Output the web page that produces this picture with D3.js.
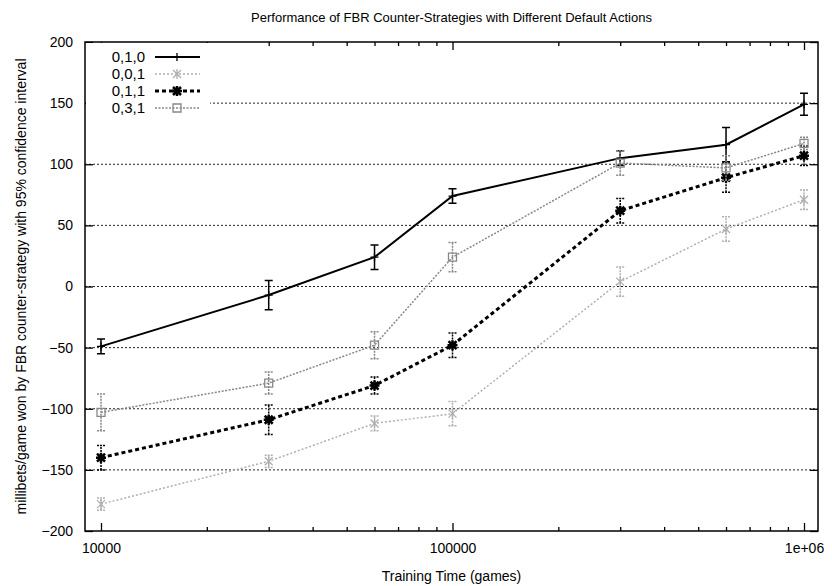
<!DOCTYPE html>
<html>
<head>
<meta charset="utf-8">
<script src="https://cdn.jsdelivr.net/npm/d3@7"></script>
<style>
  body { margin: 0; background: #fff; }
  text { font-family: "Liberation Sans", Arial, sans-serif; fill: #000; }
</style>
</head>
<body>
<div id="canvas"></div>
<script>
"use strict"

/* data */
let trainingGames = [10000, 30000, 60000, 100000, 300000, 600000, 1000000]
let seriesNames = ["0,1,0", "0,0,1", "0,1,1", "0,3,1"]
let means010 = [-49, -7, 24, 74, 105, 116, 149]
let errors010 = [6, 12, 10, 6, 6, 14, 9]
let means001 = [-178, -143, -112, -104, 4, 47, 71]
let errors001 = [5, 5, 6, 10, 12, 10, 8]
let means011 = [-140, -109, -81, -48, 62, 89, 107]
let errors011 = [10, 12, 7, 10, 10, 12, 8]
let means031 = [-103, -79, -48, 24, 101, 97, 117]
let errors031 = [15, 9, 11, 12, 10, 10, 5]
let yTicks = [-200, -150, -100, -50, 0, 50, 100, 150, 200]
let xMajorTicks = [10000, 100000, 1000000]

let svgWidth = 832
let svgHeight = 586
let margin = { top: 42, right: 14, bottom: 55, left: 85 }
let plotW = svgWidth - margin.left - margin.right
let plotH = svgHeight - margin.top - margin.bottom

/* one style per series: colour, dash, width, marker */
let styles = [
    { color: "#000", dash: null, width: 2, marker: "plus", means: means010, errors: errors010 },
    { color: "#b0b0b0", dash: "2,2", width: 1.5, marker: "cross", means: means001, errors: errors001 },
    { color: "#000", dash: "4,3", width: 3, marker: "star", means: means011, errors: errors011 },
    { color: "#888", dash: "2,1.5", width: 1.5, marker: "box", means: means031, errors: errors031 }
]

let svg = d3.select("#canvas").append("svg")
    .attr("width", svgWidth)
    .attr("height", svgHeight)

let viz = svg.append("g")
    .attr("transform", `translate(${margin.left},${margin.top})`)

let xScale = d3.scaleLog()
    .domain([Math.pow(10, 3.9545), Math.pow(10, 6.0398)])
    .range([0, plotW])
let yScale = d3.scaleLinear()
    .domain([-200, 200])
    .range([plotH, 0])

/* minor tick values on the log axis */
let xMinorTicks = []
for (let d = 10000; d <= 100000; d *= 10) {
    for (let k = 2; k <= 9; k++) xMinorTicks.push(d * k)
}

/* horizontal dotted grid */
viz.selectAll("line.grid")
    .data(yTicks.filter(v => v > -200 && v < 200))
    .join("line")
    .attr("class", "grid")
    .attr("x1", 0)
    .attr("x2", plotW)
    .attr("y1", d => yScale(d))
    .attr("y2", d => yScale(d))
    .attr("stroke", "#222")
    .attr("stroke-width", 1)
    .attr("stroke-dasharray", "2,2")

/* axes with inward ticks, mirrored on top and right */
let bottomAxis = d3.axisBottom(xScale).tickValues(xMajorTicks)
    .tickSize(-8).tickPadding(12)
    .tickFormat(d => d === 1000000 ? "1e+06" : d3.format("d")(d))
let bottomMinor = d3.axisBottom(xScale).tickValues(xMinorTicks).tickSize(-4).tickFormat("")
let topAxis = d3.axisTop(xScale).tickValues(xMajorTicks).tickSize(-8).tickFormat("")
let topMinor = d3.axisTop(xScale).tickValues(xMinorTicks).tickSize(-4).tickFormat("")
let leftAxis = d3.axisLeft(yScale).tickValues(yTicks).tickSize(-8).tickPadding(12)
let rightAxis = d3.axisRight(yScale).tickValues(yTicks).tickSize(-8).tickFormat("")

let axisGroups = [
    viz.append("g").attr("transform", `translate(0,${plotH})`).call(bottomAxis),
    viz.append("g").attr("transform", `translate(0,${plotH})`).call(bottomMinor),
    viz.append("g").call(topAxis),
    viz.append("g").call(topMinor),
    viz.append("g").call(leftAxis),
    viz.append("g").attr("transform", `translate(${plotW},0)`).call(rightAxis)
]
axisGroups.forEach(g => {
    g.select(".domain").remove()
    g.selectAll("line").attr("stroke", "#000").attr("stroke-width", 1.3)
    g.selectAll("text").style("font-size", "14px").style("font-family", "Liberation Sans, Arial, sans-serif")
})

/* legend background hides the grid behind it */
viz.append("rect")
    .attr("x", 1)
    .attr("y", 1)
    .attr("width", 124)
    .attr("height", 72)
    .attr("fill", "#fff")

/* plot border */
viz.append("rect")
    .attr("width", plotW)
    .attr("height", plotH)
    .attr("fill", "none")
    .attr("stroke", "#000")
    .attr("stroke-width", 1.5)

function markerPath(type) {
    if (type === "plus") return "M-4,0H4M0,-4V4"
    if (type === "cross") return "M-4,-4L4,4M-4,4L4,-4M0,-5V5"
    if (type === "star") return "M-5,0H5M0,-5V5M-4,-4L4,4M-4,4L4,-4"
    return "M-4,-4H4V4H-4Z"
}

let line = d3.line()
    .x(d => xScale(d.x))
    .y(d => yScale(d.y))

styles.forEach((s, i) => {
    let points = trainingGames.map((x, j) => ({ x: x, y: s.means[j], e: s.errors[j] }))
    let g = viz.append("g")

    g.append("path")
        .datum(points)
        .attr("d", line)
        .attr("fill", "none")
        .attr("stroke", s.color)
        .attr("stroke-width", s.width)
        .attr("stroke-dasharray", s.dash)

    /* error bars */
    let bars = g.selectAll("g.bar")
        .data(points)
        .join("g")
        .attr("class", "bar")
        .attr("transform", d => `translate(${xScale(d.x)},0)`)
    bars.append("path")
        .attr("d", d => {
            let y0 = yScale(d.y - d.e)
            let y1 = yScale(d.y + d.e)
            return `M0,${y0}V${y1}M-4,${y0}H4M-4,${y1}H4`
        })
        .attr("fill", "none")
        .attr("stroke", s.color)
        .attr("stroke-width", i === 0 ? 1.5 : 1.5)
        .attr("stroke-dasharray", i === 0 ? null : "2,1")

    /* point markers */
    g.selectAll("path.marker")
        .data(points)
        .join("path")
        .attr("class", "marker")
        .attr("transform", d => `translate(${xScale(d.x)},${yScale(d.y)})`)
        .attr("d", markerPath(s.marker))
        .attr("fill", "none")
        .attr("stroke", s.color)
        .attr("stroke-width", s.marker === "star" ? 2.5 : 1.3)

    /* legend entry */
    let ly = 15 + i * 17
    viz.append("text")
        .attr("x", 60)
        .attr("y", ly)
        .attr("dy", "0.35em")
        .attr("text-anchor", "end")
        .style("font-size", "15px")
        .text(seriesNames[i])
    viz.append("line")
        .attr("x1", 70)
        .attr("x2", 115)
        .attr("y1", ly)
        .attr("y2", ly)
        .attr("stroke", s.color)
        .attr("stroke-width", s.width)
        .attr("stroke-dasharray", s.dash)
    viz.append("path")
        .attr("transform", `translate(92,${ly})`)
        .attr("d", markerPath(s.marker))
        .attr("fill", "none")
        .attr("stroke", s.color)
        .attr("stroke-width", s.marker === "star" ? 2.5 : 1.3)
})

/* title and axis labels */
svg.append("text")
    .attr("x", margin.left + plotW / 2)
    .attr("y", 22)
    .attr("text-anchor", "middle")
    .style("font-size", "13px")
    .text("Performance of FBR Counter-Strategies with Different Default Actions")

svg.append("text")
    .attr("x", margin.left + plotW / 2)
    .attr("y", 581)
    .attr("text-anchor", "middle")
    .style("font-size", "14px")
    .text("Training Time (games)")

svg.append("text")
    .attr("transform", `translate(26,${margin.top + plotH / 2}) rotate(-90)`)
    .attr("text-anchor", "middle")
    .style("font-size", "14px")
    .text("millibets/game won by FBR counter-strategy with 95% confidence interval")
</script>
</body>
</html>
